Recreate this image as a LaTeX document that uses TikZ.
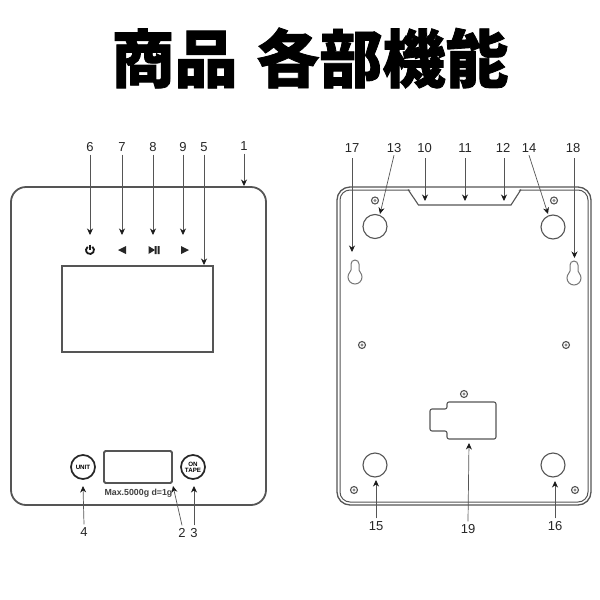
\documentclass[tikz,border=0pt]{standalone}
\usepackage{fontspec}
\setmainfont{Liberation Sans}
\newfontfamily\cjk{Noto Sans CJK JP}[BoldFeatures={FakeBold=1.3}]
\usetikzlibrary{arrows.meta}
\definecolor{ln}{HTML}{555555}
\tikzset{
  lab/.style={font=\fontsize{13}{15}\selectfont,text=black!85,inner sep=0pt,outer sep=3pt,text height=9.4pt,text depth=0pt},
  arr/.style={draw=ln,line width=0.7pt,-{Stealth[length=6.5pt,width=6pt,color=black!90]}},
  body/.style={draw=ln,line width=1.8pt},
  thin part/.style={draw=ln,line width=1.1pt},
  screw/.pic={\draw[ln,line width=1.1pt] (0,0) circle[radius=3.5pt]; \fill[ln!70] (0,0) circle[radius=1.7pt];},
  keyhole/.pic={\draw[draw=ln!80,line width=1pt] (-4pt,7pt) arc[start angle=180,end angle=0,radius=4pt] -- (4pt,1pt) .. controls (4pt,-1pt) and (7pt,-2pt) .. (7pt,-6pt) arc[start angle=0,end angle=-180,radius=7pt] .. controls (-7pt,-2pt) and (-4pt,-1pt) .. (-4pt,1pt) -- cycle;}
}
\begin{document}
\begin{tikzpicture}[x=1pt,y=-1pt]
\useasboundingbox (0,0) rectangle (600,600);
\fill[white] (0,0) rectangle (600,600);
\node[font=\cjk\bfseries\fontsize{63}{63}\selectfont,inner sep=0pt] (title) at (310,58) {商品\hspace{0.3em}各部機能};
% front
\draw[body,rounded corners=15pt] (11,187) rectangle (266,505);
\node[body,minimum width=151pt,minimum height=86pt,inner sep=0pt,outer sep=0pt] (screen) at (137.5,309) {};
\draw[body,rounded corners=1.5pt] (104,451) rectangle (172,483);
\node[draw=black!85,line width=1.7pt,circle,minimum size=24pt,inner sep=0pt,font=\bfseries\fontsize{6.2}{6}\selectfont] (unit) at (83,467) {UNIT};
\node[draw=black!85,line width=1.7pt,circle,minimum size=24pt,inner sep=0pt,align=center,font=\bfseries\fontsize{6.2}{6}\selectfont] (tare) at (193,467) {ON\\TAPE};
\node[inner sep=0pt,font=\bfseries\fontsize{8.8}{10}\selectfont,text=black!75] (max) at (138.5,493) {Max.5000g d=1g};
% icons
\draw[black!90,line width=1.8pt] (90,250) ++(55:4pt) arc[start angle=55,end angle=-235,radius=4pt];
\draw[black!90,line width=1.6pt] (90,244.5) -- (90,250);
\fill[black!85] (118,250) -- (126,246) -- (126,254) -- cycle;
\fill[black!85] (148.5,246) -- (155,250) -- (148.5,254) -- cycle;
\fill[black!85] (154.5,246) rectangle (156.5,254) (157.5,246) rectangle (159.5,254);
\fill[black!85] (181,246) -- (189,250) -- (181,254) -- cycle;
% front labels
\node[lab] (l6) at (90,147) {6};
\node[lab] (l7) at (122,147) {7};
\node[lab] (l8) at (153,147) {8};
\node[lab] (l9) at (183,147) {9};
\node[lab] (l5) at (204,147) {5};
\node[lab] (l1) at (244,146) {1};
\node[lab] (l4) at (84,532) {4};
\node[lab] (l2) at (182,533) {2};
\node[lab] (l3) at (194,533) {3};
\coordinate (t6) at (90,235);
\coordinate (t7) at (122,235);
\coordinate (t8) at (153,235);
\coordinate (t9) at (183,235);
\coordinate (t5) at (204,265);
\coordinate (t1) at (244,186);
\coordinate (t4) at (83,486);
\coordinate (t2) at (173,486);
\coordinate (t3) at (194,486);
\foreach \a in {6,7,8,9,5,1} \draw[arr] (l\a.south) -- (t\a);
\draw[arr] (l4.north) -- (t4);
\draw[arr] (l2.north) -- (t2);
\draw[arr] (l3.north) -- (t3);
% back
\draw[draw=ln,line width=1.3pt,rounded corners=13pt] (337,187) rectangle (591,505);
\draw[draw=ln,line width=1pt,rounded corners=10pt] (340,190) -- (340,502) -- (588,502) -- (588,190) -- cycle;
\fill[white] (409,188.2) -- (419,204.5) -- (510,204.5) -- (520,188.2) -- cycle;
\draw[draw=ln,line width=1.1pt] (408,189.5) -- (418.5,205) -- (511,205) -- (521,189.5);
\node[thin part,circle,minimum size=24pt,inner sep=0pt] (f13) at (375,226.5) {};
\node[thin part,circle,minimum size=24pt,inner sep=0pt] (f14) at (553,227) {};
\node[thin part,circle,minimum size=24pt,inner sep=0pt] (f15) at (375,465) {};
\node[thin part,circle,minimum size=24pt,inner sep=0pt] (f16) at (553,465) {};
\pic at (355,271) {keyhole};
\pic at (574,272) {keyhole};
\pic at (375,200.5) {screw};
\pic at (554,200.5) {screw};
\pic at (362,345) {screw};
\pic at (566,345) {screw};
\pic at (464,394) {screw};
\pic at (354,490) {screw};
\pic at (575,490) {screw};
\draw[thin part,rounded corners=2pt] (447,402) -- (496,402) -- (496,439) -- (447,439) -- (447,431) -- (430,431) -- (430,409) -- (447,409) -- cycle;
% back labels
\node[lab] (l17) at (352,147.5) {17};
\node[lab] (l13) at (394,147.5) {13};
\node[lab] (l10) at (424.5,147.5) {10};
\node[lab] (l11) at (465,147.5) {11};
\node[lab] (l12) at (503,147.5) {12};
\node[lab] (l14) at (529,147.5) {14};
\node[lab] (l18) at (573,147.5) {18};
\node[lab] (l15) at (376,526) {15};
\node[lab] (l16) at (555,526) {16};
\node[lab] (l19) at (468,529) {19};
\coordinate (t17) at (352,252);
\coordinate (t13) at (380,214);
\coordinate (t10) at (425,201);
\coordinate (t11) at (465,201);
\coordinate (t12) at (504,201);
\coordinate (t14) at (548,214);
\coordinate (t18) at (574.5,258);
\coordinate (t15) at (376,480);
\coordinate (t16) at (555,481);
\coordinate (t19) at (469,443);
\coordinate (s17) at (352,158);
\coordinate (s10) at (425,158);
\coordinate (s11) at (465,158);
\coordinate (s12) at (504,158);
\coordinate (s18) at (574.5,158);
\foreach \a in {17,10,11,12,18} \draw[arr] (s\a) -- (t\a);
\draw[arr] (l13.south) -- (t13);
\draw[arr] (l14.south) -- (t14);
\draw[arr] (l15.north) -- (t15);
\draw[arr] (l16.north) -- (t16);
\draw[arr] (l19.north) -- (t19);
\end{tikzpicture}
\end{document}
